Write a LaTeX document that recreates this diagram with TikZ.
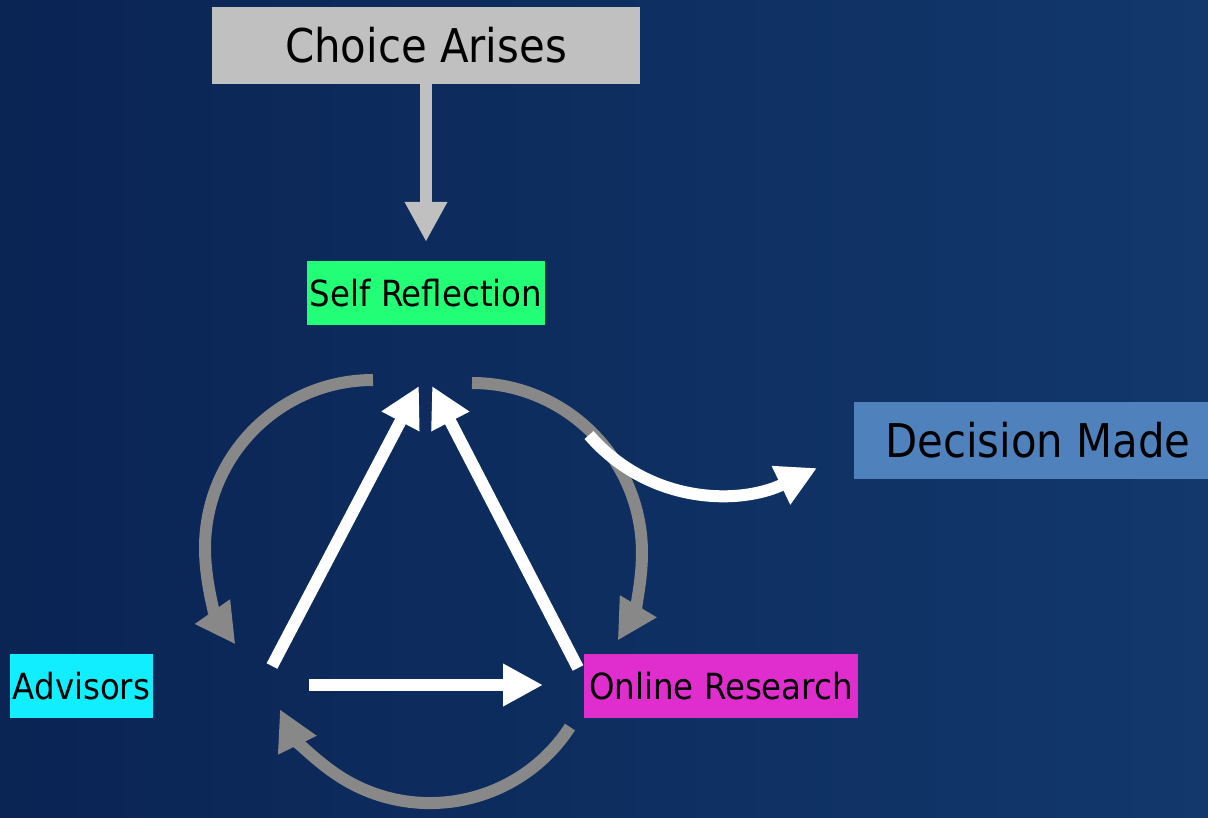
\documentclass[tikz,border=0pt]{standalone}
\usepackage{fontspec}
\setmainfont{DejaVu Sans Condensed}
\usetikzlibrary{arrows.meta}
\definecolor{bgL}{RGB}{10,36,84}
\definecolor{bgR}{RGB}{18,56,108}
\definecolor{arcgray}{RGB}{136,136,136}
\definecolor{boxgray}{RGB}{192,192,192}
\definecolor{selfgreen}{RGB}{34,255,119}
\definecolor{decblue}{RGB}{79,129,189}
\definecolor{advcyan}{RGB}{17,238,255}
\definecolor{onlmag}{RGB}{224,45,206}
\tikzset{
  box/.style={inner sep=0pt, text=black, anchor=center},
  bigtext/.style={font=\fontsize{46.5}{56}\selectfont},
  smalltext/.style={font=\fontsize{36}{44}\selectfont},
  fat/.style={line width=12pt, -{Triangle[length=40pt,width=40pt]}},
  loop/.style={fat, draw=arcgray},
  flow/.style={fat, draw=white},
}
\begin{document}
\begin{tikzpicture}[x=1pt,y=-1pt]
  % backdrop
  \useasboundingbox (0,0) rectangle (1208,817);
  \clip (0,0) rectangle (1208,817);
  \shade[left color=bgL, right color=bgR] (0,0) rectangle (1208,817);

  % labelled boxes
  \node[box, bigtext, fill=boxgray, minimum width=428pt, minimum height=77pt] (choice) at (426,45.5) {Choice Arises};
  \node[box, smalltext, fill=selfgreen, minimum width=238pt, minimum height=64pt] (self) at (426,293) {Self Reflection};
  \node[box, bigtext, fill=decblue, minimum width=368pt, minimum height=77pt] (decision) at (1038,440.5) {Decision Made};
  \node[box, smalltext, fill=advcyan, minimum width=143pt, minimum height=64pt] (adv) at (81.5,686) {Advisors};
  \node[box, smalltext, fill=onlmag, minimum width=274pt, minimum height=64pt] (online) at (721,686) {Online Research\hspace{7pt}};

  % end points of the cycle arrows
  \coordinate (advTop) at (272,666);
  \coordinate (selfL) at (419,386);
  \coordinate (onlTop) at (578,668);
  \coordinate (selfR) at (432,386);
  \coordinate (advR) at (309,685);
  \coordinate (onlL) at (543,685);
  \coordinate (arcL) at (373,380);
  \coordinate (arcR) at (472,383);
  \coordinate (arcB) at (570,727);
  \coordinate (outStart) at (589,435);
  \coordinate (outEnd) at (817,468);

  % entry arrow
  \draw[fat, draw=boxgray, shorten >=19pt] (choice.south) -- (self.north);

  % grey feedback arcs
  \draw[loop] (arcL) arc[start angle=270, end angle=145, radius=168];
  \draw[loop] (arcR) arc[start angle=270, end angle=391, radius=170];
  \draw[loop] (arcB) arc[start angle=33, end angle=154, radius=167];

  % white triangle arrows
  \draw[flow] (advTop) -- (selfL);
  \draw[flow] (onlTop) -- (selfR);
  \draw[flow] (advR) -- (onlL);

  % exit to decision
  \draw[flow] (outStart) .. controls (650,505) and (740,505) .. (outEnd);
\end{tikzpicture}
\end{document}
